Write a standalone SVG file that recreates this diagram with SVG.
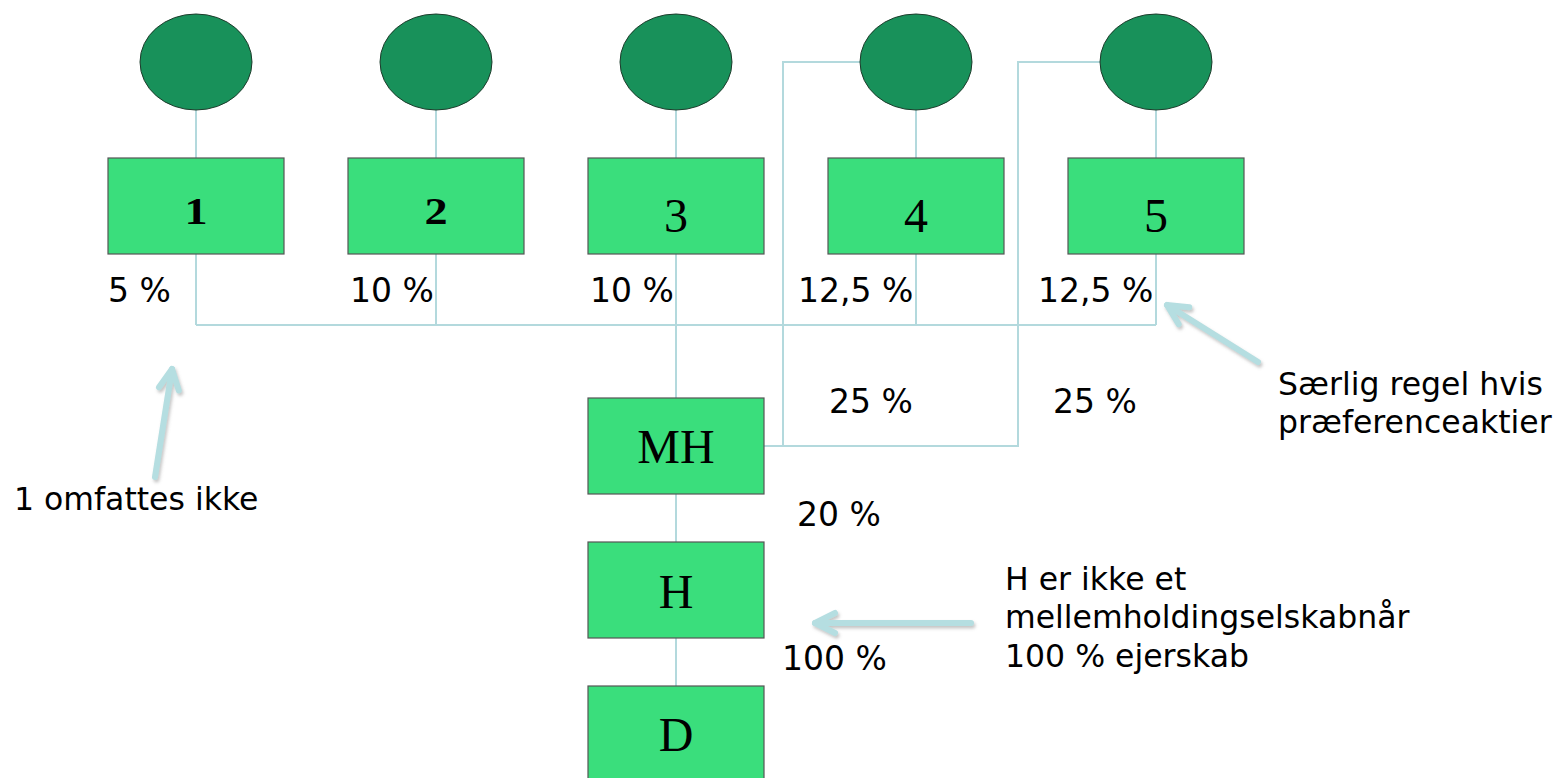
<svg xmlns="http://www.w3.org/2000/svg" width="1555" height="778" viewBox="0 0 1555 778">
  <style>
    .owner { fill: #18915a; stroke: #1d3b2b; stroke-width: 1; }
    .co { fill: #3ade7c; stroke: #555555; stroke-width: 1.2; }
    .lbl { font-family: "Liberation Serif", "Times New Roman", serif; font-size: 48px; fill: #000; text-anchor: middle; }
    .lbl-sm { font-family: "Liberation Serif", "Times New Roman", serif; font-size: 37px; font-weight: bold; fill: #000; text-anchor: middle; }
    .pct { font-family: "DejaVu Sans", Verdana, sans-serif; font-size: 31.5px; fill: #000; }
    #shares .pct { font-size: 33px; }
    .link { fill: none; stroke: #b3d9dd; stroke-width: 2; }
    .note { fill: none; stroke: #b5dee1; stroke-width: 6; stroke-linecap: round; stroke-linejoin: round; filter: url(#shadow); }
  </style>
  <defs>
    <filter id="shadow" filterUnits="userSpaceOnUse" x="0" y="0" width="1555" height="778">
      <feDropShadow dx="1.5" dy="2.5" stdDeviation="1.8" flood-color="#808080" flood-opacity="0.45"/>
    </filter>
    <marker id="chev" markerUnits="userSpaceOnUse" viewBox="-26 -16 30 32" refX="0" refY="0" markerWidth="30" markerHeight="32" orient="auto" overflow="visible">
      <path d="M-20,-10 L0,0 L-20,10" fill="none" stroke="#b5dee1" stroke-width="6" stroke-linecap="round" stroke-linejoin="round"/>
    </marker>
  </defs>
  <rect width="1555" height="778" fill="#ffffff"/>

  <!-- ownership connectors -->
  <g id="connectors">
    <path class="link" d="M196,110 V158 M436,110 V158 M676,110 V158 M916,110 V158 M1156,110 V158"/>
    <path class="link" d="M196,254 V325 M436,254 V325 M676,254 V325 M916,254 V325 M1156,254 V325"/>
    <path class="link" d="M196,325 H1156"/>
    <path class="link" d="M676,325 V398"/>
    <path class="link" d="M676,494 V542 M676,638 V686"/>
    <path class="link" d="M764,446 H1018 V62 H1100"/>
    <path class="link" d="M783,446 V62 H860"/>
  </g>

  <!-- owners -->
  <g id="owner1"><ellipse class="owner" cx="196" cy="62" rx="56" ry="48"/></g>
  <g id="owner2"><ellipse class="owner" cx="436" cy="62" rx="56" ry="48"/></g>
  <g id="owner3"><ellipse class="owner" cx="676" cy="62" rx="56" ry="48"/></g>
  <g id="owner4"><ellipse class="owner" cx="916" cy="62" rx="56" ry="48"/></g>
  <g id="owner5"><ellipse class="owner" cx="1156" cy="62" rx="56" ry="48"/></g>

  <!-- companies (1 and 2 use short old-style figures) -->
  <g id="company1"><rect class="co" x="108" y="158" width="176" height="96"/><text class="lbl-sm" transform="translate(196,224) scale(1.25,1)">1</text></g>
  <g id="company2"><rect class="co" x="348" y="158" width="176" height="96"/><text class="lbl-sm" transform="translate(436,224) scale(1.25,1)">2</text></g>
  <g id="company3"><rect class="co" x="588" y="158" width="176" height="96"/><text class="lbl" x="676" y="232">3</text></g>
  <g id="company4"><rect class="co" x="828" y="158" width="176" height="96"/><text class="lbl" x="916" y="232">4</text></g>
  <g id="company5"><rect class="co" x="1068" y="158" width="176" height="96"/><text class="lbl" x="1156" y="232">5</text></g>
  <g id="MH"><rect class="co" x="588" y="398" width="176" height="96"/><text class="lbl" x="676" y="463">MH</text></g>
  <g id="H"><rect class="co" x="588" y="542" width="176" height="96"/><text class="lbl" x="676" y="608">H</text></g>
  <g id="D"><rect class="co" x="588" y="686" width="176" height="96"/><text class="lbl" x="676" y="751">D</text></g>

  <!-- ownership shares -->
  <g id="shares">
    <text class="pct" x="108" y="302">5 %</text>
    <text class="pct" x="350" y="302">10 %</text>
    <text class="pct" x="590" y="302">10 %</text>
    <text class="pct" x="798" y="302">12,5 %</text>
    <text class="pct" x="1038" y="302">12,5 %</text>
    <text class="pct" x="829" y="413">25 %</text>
    <text class="pct" x="1053" y="413">25 %</text>
    <text class="pct" x="797" y="526">20 %</text>
    <text class="pct" x="782" y="670">100 %</text>
  </g>

  <!-- notes -->
  <g id="note-1">
    <path class="note" d="M155,477 L172,369" marker-end="url(#chev)"/>
    <text class="pct" x="14" y="510">1 omfattes ikke</text>
  </g>
  <g id="note-pref">
    <path class="note" d="M1258,362 L1167,305" marker-end="url(#chev)"/>
    <text class="pct" x="1278" y="395">Særlig regel hvis</text>
    <text class="pct" x="1278" y="433">præferenceaktier</text>
  </g>
  <g id="note-H">
    <path class="note" d="M971,623 L815,623" marker-end="url(#chev)"/>
    <text class="pct" x="1005" y="590">H er ikke et</text>
    <text class="pct" x="1005" y="628">mellemholdingselskabnår</text>
    <text class="pct" x="1005" y="667">100 % ejerskab</text>
  </g>
</svg>
